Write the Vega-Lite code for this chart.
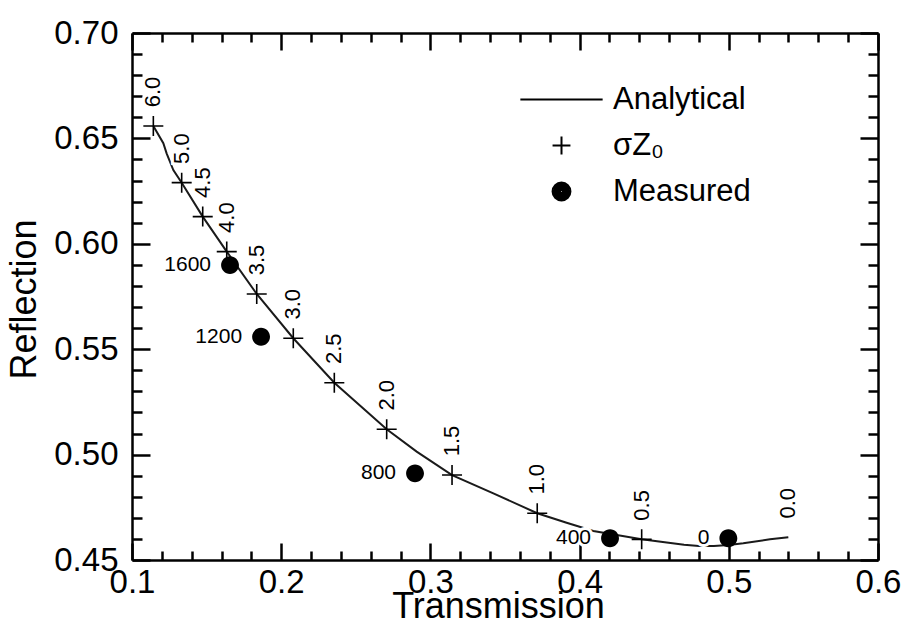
{
  "$schema": "https://vega.github.io/schema/vega-lite/v6.json",
  "width": 746,
  "height": 527,
  "autosize": {"type": "none"},
  "padding": {"left": 132, "top": 33, "right": 31, "bottom": 73},
  "background": "white",
  "config": {
    "font": "Liberation Sans",
    "view": {"stroke": null},
    "axis": {
      "grid": false,
      "domainColor": "black",
      "domainWidth": 2.5,
      "tickColor": "black",
      "tickWidth": 2.5,
      "labelColor": "black",
      "titleColor": "black",
      "labelFont": "Liberation Sans",
      "titleFont": "Liberation Sans",
      "labelFontSize": 33,
      "titleFontSize": 36,
      "titleFontWeight": "normal",
      "labelOverlap": false,
      "labelFlush": false
    }
  },
  "datasets": {
    "curve": [
      {"T": 0.1143, "R": 0.6559},
      {"T": 0.1210, "R": 0.6477},
      {"T": 0.1232, "R": 0.6429},
      {"T": 0.1277, "R": 0.6350},
      {"T": 0.1333, "R": 0.6290},
      {"T": 0.1474, "R": 0.6129},
      {"T": 0.1635, "R": 0.5963},
      {"T": 0.1836, "R": 0.5762},
      {"T": 0.2081, "R": 0.5552},
      {"T": 0.2356, "R": 0.5341},
      {"T": 0.2707, "R": 0.5120},
      {"T": 0.2908, "R": 0.5014},
      {"T": 0.3145, "R": 0.4903},
      {"T": 0.3422, "R": 0.4816},
      {"T": 0.3716, "R": 0.4722},
      {"T": 0.3913, "R": 0.4677},
      {"T": 0.4092, "R": 0.4638},
      {"T": 0.4416, "R": 0.4598},
      {"T": 0.4700, "R": 0.4572},
      {"T": 0.4800, "R": 0.4567},
      {"T": 0.4900, "R": 0.4567},
      {"T": 0.5000, "R": 0.4571},
      {"T": 0.5097, "R": 0.4579},
      {"T": 0.5276, "R": 0.4598},
      {"T": 0.5399, "R": 0.4608}
    ],
    "sz": [
      {"T": 0.1143, "R": 0.6559, "label": "6.0", "series": "σZ₀", "mark": 1},
      {"T": 0.1333, "R": 0.6290, "label": "5.0", "series": "σZ₀", "mark": 1},
      {"T": 0.1474, "R": 0.6129, "label": "4.5", "series": "σZ₀", "mark": 1},
      {"T": 0.1635, "R": 0.5963, "label": "4.0", "series": "σZ₀", "mark": 1},
      {"T": 0.1836, "R": 0.5762, "label": "3.5", "series": "σZ₀", "mark": 1},
      {"T": 0.2081, "R": 0.5552, "label": "3.0", "series": "σZ₀", "mark": 1},
      {"T": 0.2356, "R": 0.5341, "label": "2.5", "series": "σZ₀", "mark": 1},
      {"T": 0.2707, "R": 0.5120, "label": "2.0", "series": "σZ₀", "mark": 1},
      {"T": 0.3145, "R": 0.4903, "label": "1.5", "series": "σZ₀", "mark": 1},
      {"T": 0.3716, "R": 0.4722, "label": "1.0", "series": "σZ₀", "mark": 1},
      {"T": 0.4416, "R": 0.4598, "label": "0.5", "series": "σZ₀", "mark": 1},
      {"T": 0.5399, "R": 0.4608, "label": "0.0", "series": "σZ₀", "mark": 0}
    ],
    "meas": [
      {"T": 0.1657, "R": 0.5899, "label": "1600", "series": "Measured"},
      {"T": 0.1865, "R": 0.5559, "label": "1200", "series": "Measured"},
      {"T": 0.2897, "R": 0.4911, "label": "800", "series": "Measured"},
      {"T": 0.4204, "R": 0.4603, "label": "400", "series": "Measured"},
      {"T": 0.4997, "R": 0.4603, "label": "0", "series": "Measured"}
    ]
  },
  "layer": [
    {
      "data": {"name": "curve"},
      "mark": {"type": "line", "color": "#1a1a1a", "strokeWidth": 2},
      "encoding": {
        "x": {
          "field": "T", "type": "quantitative",
          "scale": {"domain": [0.1, 0.6], "nice": false, "zero": false},
          "axis": {
            "orient": "bottom",
            "title": "Transmission",
            "titleX": 366,
            "values": [0.1,0.12,0.14,0.16,0.18,0.2,0.22,0.24,0.26,0.28,0.3,0.32,0.34,0.36,0.38,0.4,0.42,0.44,0.46,0.48,0.5,0.52,0.54,0.56,0.58,0.6],
            "tickSize": {"condition": {"test": "abs(datum.value*10 - round(datum.value*10)) < 0.000001", "value": -17}, "value": -9},
            "labelExpr": "abs(datum.value*10 - round(datum.value*10)) < 0.000001 ? format(datum.value, '.1f') : ''",
            "labelPadding": 23,
            "titlePadding": -18
          }
        },
        "y": {
          "field": "R", "type": "quantitative",
          "scale": {"domain": [0.45, 0.70], "nice": false, "zero": false},
          "axis": {
            "orient": "left",
            "title": "Reflection",
            "titleY": 266,
            "values": [0.45,0.46,0.47,0.48,0.49,0.5,0.51,0.52,0.53,0.54,0.55,0.56,0.57,0.58,0.59,0.6,0.61,0.62,0.63,0.64,0.65,0.66,0.67,0.68,0.69,0.7],
            "tickSize": {"condition": {"test": "abs(datum.value*20 - round(datum.value*20)) < 0.000001", "value": -18}, "value": -10},
            "labelExpr": "abs(datum.value*20 - round(datum.value*20)) < 0.000001 ? format(datum.value, '.2f') : ''",
            "labelPadding": 32,
            "titlePadding": 10
          }
        }
      }
    },
    {
      "data": {"name": "sz"},
      "mark": {"type": "text", "angle": 270, "align": "center", "baseline": "middle", "radius": 34, "theta": 0, "fontSize": 22, "font": "Liberation Sans", "stroke": "white", "strokeWidth": 6, "fill": "white"},
      "encoding": {
        "x": {"field": "T", "type": "quantitative", "scale": {"domain": [0.1, 0.6], "nice": false, "zero": false}, "axis": {"orient": "top", "title": null, "labels": false, "domain": true,
          "values": [0.1,0.12,0.14,0.16,0.18,0.2,0.22,0.24,0.26,0.28,0.3,0.32,0.34,0.36,0.38,0.4,0.42,0.44,0.46,0.48,0.5,0.52,0.54,0.56,0.58,0.6],
          "tickSize": {"condition": {"test": "abs(datum.value*10 - round(datum.value*10)) < 0.000001", "value": -17}, "value": -9}}},
        "y": {"field": "R", "type": "quantitative", "scale": {"domain": [0.45, 0.70], "nice": false, "zero": false}, "axis": {"orient": "right", "title": null, "labels": false, "domain": true,
          "values": [0.45,0.46,0.47,0.48,0.49,0.5,0.51,0.52,0.53,0.54,0.55,0.56,0.57,0.58,0.59,0.6,0.61,0.62,0.63,0.64,0.65,0.66,0.67,0.68,0.69,0.7],
          "tickSize": {"condition": {"test": "abs(datum.value*20 - round(datum.value*20)) < 0.000001", "value": -18}, "value": -10}}},
        "text": {"field": "label"}
      }
    },
    {
      "data": {"name": "sz"},
      "mark": {"type": "text", "angle": 270, "align": "center", "baseline": "middle", "radius": 34, "theta": 0, "fontSize": 22, "font": "Liberation Sans", "color": "black"},
      "encoding": {
        "x": {"field": "T", "type": "quantitative", "axis": null},
        "y": {"field": "R", "type": "quantitative", "axis": null},
        "text": {"field": "label"}
      }
    },
    {
      "data": {"name": "meas"},
      "mark": {"type": "text", "align": "right", "baseline": "middle", "dx": -19, "fontSize": 21, "font": "Liberation Sans", "stroke": "white", "strokeWidth": 6, "fill": "white"},
      "encoding": {
        "x": {"field": "T", "type": "quantitative", "axis": null},
        "y": {"field": "R", "type": "quantitative", "axis": null},
        "text": {"field": "label"}
      }
    },
    {
      "data": {"name": "meas"},
      "mark": {"type": "text", "align": "right", "baseline": "middle", "dx": -19, "fontSize": 21, "font": "Liberation Sans", "color": "black"},
      "encoding": {
        "x": {"field": "T", "type": "quantitative", "axis": null},
        "y": {"field": "R", "type": "quantitative", "axis": null},
        "text": {"field": "label"}
      }
    },
    {
      "data": {"name": "sz"},
      "transform": [{"filter": "datum.mark == 1"}],
      "mark": {"type": "point", "filled": false, "color": "black", "strokeWidth": 1.6, "size": 400, "opacity": 1},
      "encoding": {
        "x": {"field": "T", "type": "quantitative", "axis": null},
        "y": {"field": "R", "type": "quantitative", "axis": null},
        "shape": {
          "field": "series", "type": "nominal",
          "scale": {
            "domain": ["Analytical", "σZ₀", "Measured"],
            "range": [
              "M-4.6,0H4.6",
              "M-1,0H1M0,-1V1",
              "M1,0A1,1 0 1,1 -1,0A1,1 0 1,1 1,0ZM0.8,0A0.8,0.8 0 1,1 -0.8,0A0.8,0.8 0 1,1 0.8,0ZM0.6,0A0.6,0.6 0 1,1 -0.6,0A0.6,0.6 0 1,1 0.6,0ZM0.4,0A0.4,0.4 0 1,1 -0.4,0A0.4,0.4 0 1,1 0.4,0ZM0.2,0A0.2,0.2 0 1,1 -0.2,0A0.2,0.2 0 1,1 0.2,0ZM0.06,0A0.06,0.06 0 1,1 -0.06,0A0.06,0.06 0 1,1 0.06,0Z"
            ]
          },
          "legend": {
            "orient": "none", "legendX": 414, "legendY": 51, "title": null,
            "labelFontSize": 31, "labelFont": "Liberation Sans", "labelColor": "black",
            "symbolSize": 320, "symbolStrokeWidth": 2, "labelOffset": 36, "rowPadding": 14, "padding": 0,
            "symbolStrokeColor": "black"
          }
        }
      }
    },
    {
      "data": {"name": "meas"},
      "mark": {"type": "point", "filled": true, "color": "black", "size": 320, "opacity": 1},
      "encoding": {
        "x": {"field": "T", "type": "quantitative", "axis": null},
        "y": {"field": "R", "type": "quantitative", "axis": null},
        "shape": {"field": "series", "type": "nominal"}
      }
    }
  ],
  "resolve": {"axis": {"x": "independent", "y": "independent"}}
}
